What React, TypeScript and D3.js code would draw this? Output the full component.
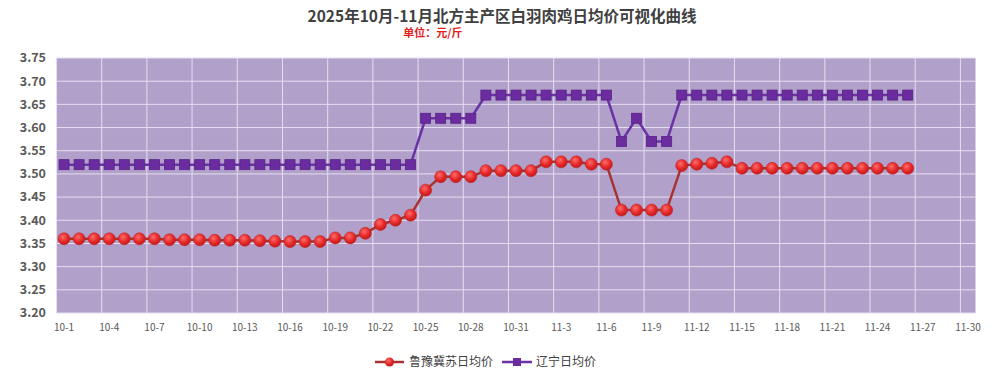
import React, { useRef, useEffect } from 'react';
import * as d3 from 'd3';

// all dates on the axis: Oct 1 .. Nov 30
const dates: string[] = [
  ...d3.range(1, 32).map((d) => `10-${d}`),
  ...d3.range(1, 31).map((d) => `11-${d}`),
];

// 鲁豫冀苏日均价, 10-1 .. 11-26
const luYuJiSu: number[] = [
  3.36, 3.36, 3.36, 3.36, 3.36, 3.36, 3.36, 3.358, 3.358, 3.358,
  3.357, 3.357, 3.357, 3.356, 3.355, 3.354, 3.354, 3.354, 3.362, 3.362,
  3.372, 3.391, 3.4, 3.411, 3.465, 3.494, 3.494, 3.494, 3.507, 3.507,
  3.507, 3.507, 3.526, 3.526, 3.526, 3.521, 3.521, 3.422, 3.422, 3.422,
  3.422, 3.518, 3.521, 3.523, 3.526, 3.512, 3.512, 3.512, 3.512, 3.512,
  3.512, 3.512, 3.512, 3.512, 3.512, 3.512, 3.512,
];

// 辽宁日均价, 10-1 .. 11-26
const liaoning: number[] = [
  3.52, 3.52, 3.52, 3.52, 3.52, 3.52, 3.52, 3.52, 3.52, 3.52,
  3.52, 3.52, 3.52, 3.52, 3.52, 3.52, 3.52, 3.52, 3.52, 3.52,
  3.52, 3.52, 3.52, 3.52, 3.62, 3.62, 3.62, 3.62, 3.67, 3.67,
  3.67, 3.67, 3.67, 3.67, 3.67, 3.67, 3.67, 3.57, 3.62, 3.57,
  3.57, 3.67, 3.67, 3.67, 3.67, 3.67, 3.67, 3.67, 3.67, 3.67,
  3.67, 3.67, 3.67, 3.67, 3.67, 3.67, 3.67,
];

const yTicks: number[] = d3.range(0, 12).map((i) => +(3.2 + i * 0.05).toFixed(2));

const title = '2025年10月-11月北方主产区白羽肉鸡日均价可视化曲线';
const subtitle = '单位：元/斤';
const seriesNames = ['鲁豫冀苏日均价', '辽宁日均价'];

const W = 1003;
const H = 389;
const FONT = '"Noto Sans CJK SC", "Noto Sans", sans-serif';

const App = () => {
  const svgRef = useRef<SVGSVGElement>(null);

  useEffect(() => {
    const svg = d3.select(svgRef.current);
    svg.selectAll('*').remove();

    const left = 56.5, right = 975.5, top = 58, bottom = 313;

    const x = d3.scaleBand<string>().domain(dates).range([left, right]).padding(0);
    const y = d3.scaleLinear().domain([3.2, 3.75]).range([bottom, top]);
    const cx = (i: number) => (x(dates[i]) as number) + x.bandwidth() / 2;

    const defs = svg.append('defs');
    const rg = defs.append('radialGradient').attr('id', 'redBall').attr('cx', '40%').attr('cy', '35%').attr('r', '65%');
    rg.append('stop').attr('offset', '0%').attr('stop-color', '#ff6b6b');
    rg.append('stop').attr('offset', '60%').attr('stop-color', '#e52a2a');
    rg.append('stop').attr('offset', '100%').attr('stop-color', '#c41a1a');

    // plot area
    svg.append('rect')
      .attr('x', left).attr('y', top)
      .attr('width', right - left).attr('height', bottom - top)
      .attr('fill', '#b1a0ca');

    // horizontal grid
    svg.append('g').selectAll('line')
      .data(yTicks)
      .join('line')
      .attr('x1', left).attr('x2', right)
      .attr('y1', (d) => y(d)).attr('y2', (d) => y(d))
      .attr('stroke', '#e6def0').attr('stroke-width', 1);

    // vertical grid every 3 days, at band starts
    const gridIdx = d3.range(0, dates.length, 3);
    svg.append('g').selectAll('line')
      .data(gridIdx)
      .join('line')
      .attr('x1', (i) => x(dates[i]) as number).attr('x2', (i) => x(dates[i]) as number)
      .attr('y1', top).attr('y2', bottom)
      .attr('stroke', '#e6def0').attr('stroke-width', 1);

    // y labels
    svg.append('g').selectAll('text')
      .data(yTicks)
      .join('text')
      .attr('x', 46).attr('y', (d) => y(d))
      .attr('dy', '0.35em')
      .attr('text-anchor', 'end')
      .attr('font-family', FONT).attr('font-weight', 'bold').attr('font-size', 12.5)
      .attr('fill', '#595959')
      .text((d) => d.toFixed(2));

    // x labels
    svg.append('g').selectAll('text')
      .data(gridIdx)
      .join('text')
      .attr('x', (i) => cx(i)).attr('y', 331)
      .attr('text-anchor', 'middle')
      .attr('font-family', FONT).attr('font-size', 10)
      .attr('fill', '#595959')
      .text((i) => dates[i]);

    const line = d3.line<number>().x((_, i) => cx(i)).y((d) => y(d));

    // 辽宁
    svg.append('path')
      .datum(liaoning)
      .attr('fill', 'none').attr('stroke', '#6a32a3').attr('stroke-width', 2.5)
      .attr('d', line);
    svg.append('g').selectAll('rect')
      .data(liaoning)
      .join('rect')
      .attr('x', (_, i) => cx(i) - 5).attr('y', (d) => y(d) - 5)
      .attr('width', 10).attr('height', 10)
      .attr('fill', '#6a2c9e').attr('stroke', '#5a2288').attr('stroke-width', 0.8);

    // 鲁豫冀苏
    svg.append('path')
      .datum(luYuJiSu)
      .attr('fill', 'none').attr('stroke', '#a83232').attr('stroke-width', 2.5)
      .attr('d', line);
    svg.append('g').selectAll('circle')
      .data(luYuJiSu)
      .join('circle')
      .attr('cx', (_, i) => cx(i)).attr('cy', (d) => y(d))
      .attr('r', 6)
      .attr('fill', 'url(#redBall)').attr('stroke', '#c62222').attr('stroke-width', 0.6);

    // title
    svg.append('text')
      .attr('x', 502).attr('y', 22)
      .attr('text-anchor', 'middle')
      .attr('font-family', FONT).attr('font-weight', 'bold').attr('font-size', 15.5)
      .attr('fill', '#404040')
      .text(title);
    svg.append('text')
      .attr('x', 433).attr('y', 37)
      .attr('text-anchor', 'middle')
      .attr('font-family', FONT).attr('font-weight', 'bold').attr('font-size', 11)
      .attr('fill', '#e31c1c')
      .text(subtitle);

    // legend
    const lg = svg.append('g').attr('transform', 'translate(0, 362)');
    lg.append('line').attr('x1', 375).attr('x2', 404).attr('y1', 0).attr('y2', 0)
      .attr('stroke', '#a83232').attr('stroke-width', 2.5);
    lg.append('circle').attr('cx', 389.5).attr('cy', 0).attr('r', 4.5).attr('fill', 'url(#redBall)');
    lg.append('text').attr('x', 409).attr('y', 0).attr('dy', '0.35em')
      .attr('font-family', FONT).attr('font-size', 12).attr('fill', '#404040')
      .text(seriesNames[0]);
    lg.append('line').attr('x1', 502).attr('x2', 532).attr('y1', 0).attr('y2', 0)
      .attr('stroke', '#6a32a3').attr('stroke-width', 2.5);
    lg.append('rect').attr('x', 513).attr('y', -4).attr('width', 8).attr('height', 8).attr('fill', '#6a2c9e');
    lg.append('text').attr('x', 536).attr('y', 0).attr('dy', '0.35em')
      .attr('font-family', FONT).attr('font-size', 12).attr('fill', '#404040')
      .text(seriesNames[1]);
  }, []);

  return (
    <svg ref={svgRef} width={W} height={H} style={{ display: 'block', margin: '-8px', background: '#fff' }} />
  );
};

export default App;
